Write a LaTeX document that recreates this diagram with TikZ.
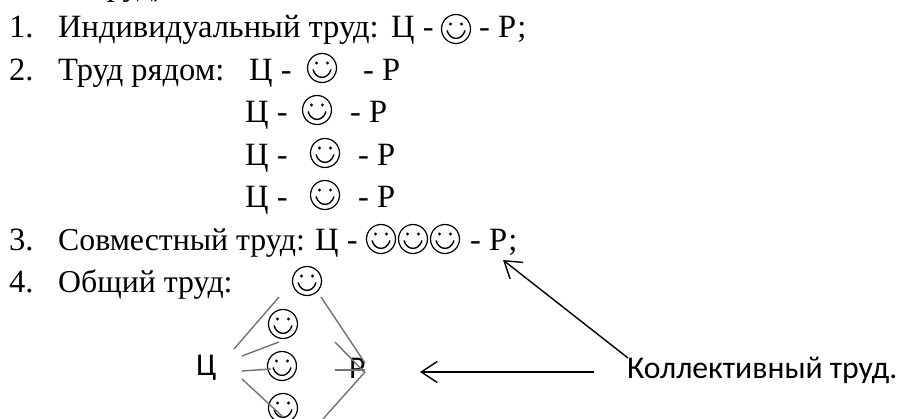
\documentclass[tikz,border=0pt]{standalone}
\usepackage{fontspec}
\usetikzlibrary{arrows.meta}
\setmainfont{Liberation Serif}
\newfontfamily\calfnt{Carlito}
\tikzset{
 txt/.style={anchor=base west,inner sep=0pt,font=\fontsize{32.5}{38}\selectfont},
 txtn/.style={anchor=base west,inner sep=0pt,font=\fontsize{31.8}{38}\selectfont},
 calibri/.style={anchor=base west,inner sep=0pt,font=\calfnt\fontsize{31.7}{38}\selectfont},
 smile/.style={circle,draw,line width=1.2pt,minimum size=29pt,inner sep=0pt,
   path picture={
     \begin{scope}[shift={(path picture bounding box.center)}]
     \fill (-5.5pt,5pt) circle (1.6pt);
     \fill (5.5pt,5pt) circle (1.6pt);
     \draw[line width=1.4pt] (-9pt,-1.5pt) .. controls (-6pt,-12pt) and (6pt,-12pt) .. (9pt,-1.5pt);
     \end{scope}
   }},
 gline/.style={draw=black!55,line width=1.4pt},
 blk/.style={draw=black,line width=1.4pt,-{Straight Barb[length=16pt,width=21pt,line width=1.4pt]}}
}
\begin{document}
\begin{tikzpicture}[x=1pt,y=-1pt]
\useasboundingbox (0,0) rectangle (902,419);
\fill[white] (0,0) rectangle (902,419);
\begin{scope}
\clip (0,0) rectangle (902,419);
\node[txt] (t0) at (92,-4) {труд),};
\node[txt] (n1) at (9,38) {1.};
\node[txt] (a1) at (58,38) {Индивидуальный труд:};
\node[txt] (c1) at (391,38) {Ц -};
\node[smile] (s1) at (456,29) {};
\node[txt] (p1) at (479,38) {- Р;};
\node[txt] (n2) at (9,81) {2.};
\node[txt] (a2) at (58,81) {Труд рядом:};
\node[txt] (c2) at (249,81) {Ц -};
\node[smile] (s2) at (322,68) {};
\node[txt] (p2) at (363,81) {- Р};
\node[txt] (c3) at (245,123) {Ц -};
\node[smile] (s3) at (317,110) {};
\node[txt] (p3) at (350,123) {- Р};
\node[txt] (c4) at (245,166) {Ц -};
\node[smile] (s4) at (325,153) {};
\node[txt] (p4) at (358,166) {- Р};
\node[txt] (c5) at (245,208) {Ц -};
\node[smile] (s5) at (325,195) {};
\node[txt] (p5) at (358,208) {- Р};
\node[txt] (n3) at (9,251) {3.};
\node[txtn] (a3) at (58,251) {Совместный труд:};
\node[txt] (c6) at (315,251) {Ц -};
\node[smile] (s6a) at (381,239) {};
\node[smile] (s6b) at (413,239) {};
\node[smile] (s6c) at (445,239) {};
\node[txt] (p6) at (470,251) {- Р;};
\node[txt] (n4) at (9,293) {4.};
\node[txtn] (a4) at (58,293) {Общий труд:};
\node[smile] (sa) at (307,281) {};
\node[smile] (sb) at (283,324) {};
\node[smile] (sc) at (282,366) {};
\node[smile] (sd) at (283,408) {};
\node[calibri] (u) at (196,376) {Ц};
\node[calibri] (r) at (349,378) {Р};
\node[calibri] (k) at (627,378) {Коллективный труд.};
\coordinate (l1) at (234,349); \coordinate (l1e) at (279,297);
\coordinate (l2) at (242,356); \coordinate (l2e) at (279,342);
\coordinate (l3) at (242,371); \coordinate (l3e) at (271,369);
\coordinate (l4) at (242,379); \coordinate (l4e) at (283,417);
\coordinate (r1) at (321,297); \coordinate (r1e) at (365,363);
\coordinate (r2) at (335,342); \coordinate (r2e) at (365,373);
\coordinate (r3) at (335,370); \coordinate (r3e) at (365,370);
\coordinate (r4) at (323,419); \coordinate (r4e) at (365,372);
\draw[gline] (l1) -- (l1e);
\draw[gline] (l2) -- (l2e);
\draw[gline] (l3) -- (l3e);
\draw[gline] (l4) -- (l4e);
\draw[gline] (r1) -- (r1e);
\draw[gline] (r2) -- (r2e);
\draw[gline] (r3) -- (r3e);
\draw[gline] (r4) -- (r4e);
\coordinate (h1) at (594,372); \coordinate (h2) at (420,372);
\draw[blk] (h1) -- (h2);
\coordinate (k1) at (628,358); \coordinate (k2) at (503,260);
\draw[blk] (k1) -- (k2);
\end{scope}
\end{tikzpicture}
\end{document}
